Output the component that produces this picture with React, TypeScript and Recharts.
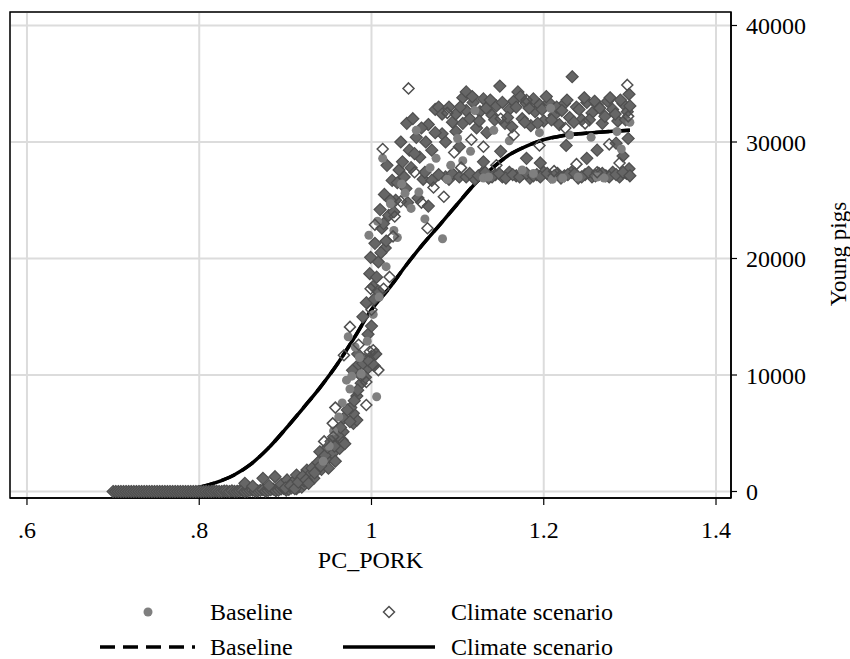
import {
  ComposedChart,
  Scatter,
  Line,
  XAxis,
  YAxis,
  CartesianGrid,
  ReferenceArea,
} from "recharts";

const FONT = "Liberation Serif, Times New Roman, Times, DejaVu Serif, serif";

// x range of the plot region and y range (frame edges, not ticks)
const X_DOMAIN: [number, number] = [0.5803, 1.4174];
const Y_DOMAIN: [number, number] = [-558, 41159];
const X_TICKS = [0.6, 0.8, 1, 1.2, 1.4];
const Y_TICKS = [0, 10000, 20000, 30000, 40000];

// fitted curve (same for baseline and climate scenario)
const curveX = [0.7, 0.72, 0.74, 0.76, 0.78, 0.8, 0.82, 0.84, 0.86, 0.88, 0.9, 0.92, 0.94, 0.96, 0.98, 1.0, 1.02, 1.04, 1.06, 1.08, 1.1, 1.12, 1.14, 1.16, 1.18, 1.2, 1.22, 1.24, 1.26, 1.28, 1.3];
const baselineCurve = [0, 0, 10, 40, 130, 360, 780, 1400, 2350, 3700, 5350, 7100, 8900, 10900, 13200, 15600, 17400, 19400, 21250, 22950, 24700, 26400, 27750, 28900, 29650, 30200, 30520, 30700, 30820, 30920, 31000];
const climateCurve = [0, 0, 10, 40, 130, 360, 780, 1400, 2350, 3700, 5350, 7100, 8900, 10900, 13200, 15600, 17400, 19400, 21250, 22950, 24700, 26400, 27750, 28900, 29650, 30200, 30520, 30700, 30820, 30920, 31000];

// points where baseline and climate scenario coincide (seen as filled diamonds)
const zeroBandX = [
  0.7, 0.703, 0.706, 0.709, 0.712, 0.715, 0.718, 0.721, 0.724, 0.727, 0.73, 0.733, 0.736, 0.739, 0.742, 0.745, 0.748, 0.751, 0.754, 0.757,
  0.76, 0.763, 0.766, 0.769, 0.772, 0.775, 0.778, 0.781, 0.784, 0.787, 0.79, 0.793, 0.796, 0.799, 0.802, 0.805, 0.808, 0.811, 0.814, 0.817,
  0.82, 0.823, 0.826, 0.829, 0.832, 0.835, 0.838, 0.841, 0.844, 0.847, 0.85, 0.853, 0.856, 0.859, 0.862, 0.865, 0.868, 0.871, 0.874, 0.877,
  0.88, 0.883, 0.886, 0.889, 0.892, 0.895, 0.898, 0.901, 0.904, 0.907, 0.91, 0.913, 0.916, 0.919, 0.922,
];
const zeroBandY = [
  0, 0, 0, 0, 0, 0, 0, 0, 0, 0, 0, 0, 0, 0, 0, 0, 0, 0, 0, 0,
  0, 0, 0, 0, 0, 0, 0, 0, 0, 0, 0, 0, 0, 0, 0, 0, 10, 0, 0, 20,
  20, 0, 0, 40, 30, 0, 60, 10, 20, 50, 80, 0, 40, 90, 120, 30, 60, 100, 150, 40,
  90, 160, 200, 70, 120, 220, 260, 110, 180, 300, 350, 250, 420, 380, 600,
];
const riseX = [
  0.853, 0.862, 0.874, 0.881, 0.888, 0.895, 0.902, 0.908, 0.913, 0.918, 0.922, 0.925, 0.929, 0.933, 0.936, 0.94, 0.942, 0.944, 0.948, 0.95,
  0.952, 0.955, 0.958, 0.96, 0.963, 0.966, 0.969, 0.967, 0.979, 0.983, 0.979, 0.976, 0.983, 0.988, 0.978, 0.985, 0.992, 0.996, 1.0, 0.984,
  0.9, 0.906, 0.911, 0.915, 0.92, 0.924, 0.927, 0.931, 0.934, 0.938, 0.941, 0.946, 0.949, 0.953, 0.957, 0.961, 0.964, 0.968, 0.972, 0.975,
  0.98, 0.984, 0.987, 0.99, 0.993, 0.997, 1.003, 1.005,
];
const riseY = [
  700, 450, 1130, 500, 1270, 600, 990, 750, 1410, 1100, 900, 1840, 1500, 1130, 2270, 3410, 1900, 2900, 2700, 2000,
  3600, 3280, 2600, 4000, 3700, 4400, 4100, 5130, 5850, 6130, 6710, 7200, 8200, 9300, 10400, 10900, 11300, 10600, 11600, 11800,
  300, 500, 250, 800, 1300, 1000, 700, 2000, 1600, 2500, 2200, 3100, 3800, 4300, 3900, 4800, 5500, 6300, 7000, 6000,
  7800, 8700, 10000, 11000, 9800, 11200, 10800, 11800,
];
const jumpX = [
  0.99, 0.994, 0.998, 1.002, 1.006, 0.999, 1.004, 1.008, 1.012, 1.016, 1.01, 1.015, 1.02, 1.024, 1.018, 1.028, 1.032, 1.036, 1.04, 1.044,
  1.041, 1.048, 1.052, 1.056, 1.06, 1.063, 1.066, 1.07, 1.074, 1.078, 1.082, 1.086, 1.09, 1.094, 1.098, 1.102, 1.106, 1.11,
  0.996, 1.0, 1.003, 1.008, 1.011, 1.014, 1.017, 1.022, 1.026, 1.03, 1.034, 1.038, 1.042, 1.046, 1.05, 1.054, 1.058, 1.062, 1.066, 1.07,
  1.074, 1.078, 1.082, 1.086, 1.09, 1.094, 1.098, 1.102, 1.106, 1.11,
];
const jumpY = [
  14990, 16200, 18700, 17600, 18400, 20100, 21300, 19700, 22600, 20900, 24200, 25500, 23700, 26700, 28000, 25000, 27600, 28300, 26000, 29300,
  31600, 32000, 30400, 28700, 26800, 30000, 31500, 29300, 32800, 33000, 30700, 27000, 26800, 31700, 32400, 29600, 33800, 34300,
  13500, 14200, 16500, 17200, 20500, 23000, 21500, 25000, 24000, 26500, 30000, 27000, 24800, 27800, 29000, 25200, 31200, 27400, 24500, 26700,
  30800, 27200, 32400, 30000, 33000, 27300, 30900, 27000, 31600, 32700,
];
const upperBandX = [
  1.114, 1.118, 1.122, 1.126, 1.13, 1.134, 1.14, 1.145, 1.149, 1.155, 1.16, 1.165, 1.17, 1.175, 1.18, 1.185, 1.19, 1.195, 1.2, 1.206,
  1.212, 1.218, 1.224, 1.23, 1.233, 1.238, 1.244, 1.25, 1.256, 1.262, 1.268, 1.274, 1.28, 1.286, 1.292, 1.297, 1.299,
  1.103, 1.117, 1.125, 1.133, 1.138, 1.143, 1.152, 1.158, 1.163, 1.168, 1.173, 1.178, 1.183, 1.188, 1.193, 1.198, 1.203, 1.209, 1.215, 1.221,
  1.227, 1.235, 1.241, 1.247, 1.253, 1.259, 1.265, 1.271, 1.277, 1.283, 1.289, 1.295, 1.3,
];
const upperBandY = [
  32000, 33400, 31200, 32600, 33700, 30800, 32300, 33100, 34800, 31600, 32800, 33500, 34300, 32000, 33300, 31400, 32600, 33200, 31800, 33400,
  32300, 31500, 33300, 32100, 35600, 33000, 31900, 33400, 32500, 33200, 31600, 33500, 32800, 31800, 33300, 32600, 34100,
  33000, 33900, 31800, 32900, 33600, 31900, 33400, 32100, 31300, 33000, 33900, 31700, 32900, 33700, 31600, 32800, 33900, 31900, 33000, 32700,
  33600, 31700, 32800, 33800, 31900, 33500, 32900, 32200, 33800, 32400, 33600, 31900, 33100,
];
const lowerBandX = [
  1.11, 1.12, 1.128, 1.136, 1.144, 1.152, 1.16, 1.168, 1.176, 1.184, 1.192, 1.2, 1.208, 1.216, 1.224, 1.232, 1.24, 1.248, 1.256, 1.264,
  1.272, 1.28, 1.288, 1.296, 1.299, 1.13, 1.15, 1.18, 1.196, 1.226, 1.25, 1.262, 1.284, 1.292, 1.298,
  1.114, 1.124, 1.132, 1.14, 1.148, 1.156, 1.164, 1.172, 1.18, 1.188, 1.196, 1.204, 1.212, 1.22, 1.228, 1.236, 1.244, 1.252, 1.26, 1.268,
  1.276, 1.284, 1.292, 1.3,
];
const lowerBandY = [
  27000, 26800, 27300, 26900, 27200, 27000, 27400, 27100, 27300, 26900, 27200, 27400, 27000, 27300, 27100, 27400, 26900, 27200, 27000, 27300,
  27100, 27400, 27000, 27300, 27700, 28300, 29200, 28600, 28200, 29700, 28600, 29300, 29900, 28800, 30300,
  27300, 27100, 27400, 27000, 27300, 26900, 27200, 27000, 27300, 27100, 27000, 27300, 27100, 26900, 27200, 27300, 27000, 27400, 27100, 27300,
  27000, 27200, 27400, 27100,
];

// baseline-only points (grey dots)
const baseX = [
  0.956, 0.962, 0.966, 0.971, 0.973, 0.975, 0.981, 0.988, 0.995, 1.006, 1.002, 1.009, 0.997, 1.007, 1.013, 1.022, 1.03, 1.035, 1.046, 1.055,
  1.062, 1.068, 1.0825, 1.075, 1.092, 1.1, 1.115, 1.13, 1.142, 1.16, 1.175, 1.195, 1.21, 1.23, 1.24, 1.255, 1.27, 1.285, 1.3, 1.12,
  1.208, 1.29, 0.944, 0.951, 0.977, 0.986, 1.017, 1.026, 1.039, 1.052, 1.088, 1.106, 1.136, 1.188, 1.222, 1.262,
];
const baseY = [
  5200, 6400, 7600, 9560, 13280, 8800, 12400, 10100, 12900, 8130, 15200, 16700, 22000, 23200, 28600, 24700, 21800, 26400, 24300, 25700,
  23400, 27800, 21700, 28600, 28000, 30300, 29200, 26900, 31000, 30100, 27600, 30800, 26800, 30600, 27000, 30400, 26900, 30900, 31700, 32700,
  32900, 29400, 2600, 3900, 9900, 11500, 19300, 22400, 25600, 31000, 26800, 28400, 27000, 27300, 26900, 27000,
];

// climate-scenario-only points (hollow diamonds)
const climX = [
  0.945, 0.955, 0.9556, 0.958, 0.968, 0.975, 0.985, 0.994, 0.994, 1.002, 1.008, 0.998, 1.0, 0.999, 1.004, 1.014, 1.021, 1.025, 1.013, 1.027,
  1.034, 1.043, 1.05, 1.058, 1.065, 1.072, 1.084, 1.088, 1.096, 1.104, 1.116, 1.13, 1.145, 1.15, 1.165, 1.18, 1.195, 1.212, 1.225, 1.238,
  1.248, 1.262, 1.276, 1.288, 1.297, 1.298,
];
const climY = [
  4300, 5850, 4700, 7200, 11700, 14130, 12600, 7420, 9400, 12130, 10420, 12000, 15600, 17400, 22900, 17400, 18420, 21900, 29400, 23600,
  24900, 34600, 27400, 24800, 22600, 26100, 25300, 32500, 29100, 27800, 30200, 29600, 28000, 32000, 30600, 33600, 29700, 27500, 31200, 28100,
  31600, 27400, 29800, 28200, 34900, 32200,
];

const toPoints = (xs: number[], ys: number[]) => xs.map((x, i) => ({ x, y: ys[i] }));

const bothPoints = [
  ...toPoints(zeroBandX, zeroBandY),
  ...toPoints(riseX, riseY),
  ...toPoints(jumpX, jumpY),
  ...toPoints(upperBandX, upperBandY),
  ...toPoints(lowerBandX, lowerBandY),
];

const Dot = (p: any) => <circle cx={p.cx} cy={p.cy} r={4.5} fill="#7f7f7f" />;
const diamond = (cx: number, cy: number, r: number) =>
  `M${cx},${cy - r}L${cx + r},${cy}L${cx},${cy + r}L${cx - r},${cy}Z`;
const FilledDiamond = (p: any) => (
  <path d={diamond(p.cx, p.cy, 6)} fill="#666666" stroke="#4f4f4f" strokeWidth={1.2} />
);
const HollowDiamond = (p: any) => (
  <path d={diamond(p.cx, p.cy, 5.5)} fill="none" stroke="#4f4f4f" strokeWidth={1.5} />
);

const fmtX = (v: number) => (v < 1 ? String(v).replace(/^0/, "") : String(v));

const YTitle = (props: any) => {
  const vb = props.viewBox || { x: 731, y: 12, width: 119, height: 486 };
  const cx = vb.x + vb.width - 12;
  const cy = vb.y + vb.height / 2 - 1;
  return (
    <text
      x={cx}
      y={cy}
      transform={`rotate(-90 ${cx} ${cy})`}
      textAnchor="middle"
      dominantBaseline="central"
      fontSize={23}
      fontFamily={FONT}
      fill="#000"
    >
      Young pigs
    </text>
  );
};

const legendText: React.CSSProperties = {
  position: "absolute",
  fontFamily: FONT,
  fontSize: 24,
  lineHeight: "24px",
  color: "#000",
  whiteSpace: "nowrap",
};

function Legend() {
  return (
    <>
      <svg width={850} height={69} style={{ position: "absolute", left: 0, top: 590 }}>
        <circle cx={148} cy={22} r={4.5} fill="#7f7f7f" />
        <path d={diamond(389, 22, 5.5)} fill="none" stroke="#4f4f4f" strokeWidth={1.5} />
        <line x1={100} y1={57} x2={195} y2={57} stroke="#000" strokeWidth={3.5} strokeDasharray="15 8" />
        <line x1={343} y1={57} x2={435} y2={57} stroke="#000" strokeWidth={3.5} />
      </svg>
      <div style={{ ...legendText, left: 210, top: 600 }}>Baseline</div>
      <div style={{ ...legendText, left: 451, top: 600 }}>Climate scenario</div>
      <div style={{ ...legendText, left: 210, top: 635 }}>Baseline</div>
      <div style={{ ...legendText, left: 451, top: 635 }}>Climate scenario</div>
    </>
  );
}

export default function App() {
  const tickStyle = { fill: "#000", fontSize: 24, fontFamily: FONT };
  return (
    <div style={{ position: "absolute", left: 0, top: 0, width: 850, height: 659, background: "#fff", overflow: "hidden" }}>
      <ComposedChart width={850} height={659} margin={{ top: 12, left: 10, right: 0, bottom: 86 }}>
        <CartesianGrid stroke="#dcdcdc" strokeWidth={2} />
        <XAxis
          type="number"
          dataKey="x"
          domain={X_DOMAIN}
          allowDataOverflow
          ticks={X_TICKS}
          interval={0}
          tickFormatter={fmtX}
          tick={tickStyle}
          tickSize={7}
          tickMargin={16}
          tickLine={{ stroke: "#000", strokeWidth: 1.2 }}
          axisLine={{ stroke: "#000", strokeWidth: 1.5 }}
          height={75}
          label={{ value: "PC_PORK", position: "insideBottom", offset: 5, fill: "#000", fontSize: 24, fontFamily: FONT }}
        />
        <YAxis
          type="number"
          orientation="right"
          domain={Y_DOMAIN}
          allowDataOverflow
          ticks={Y_TICKS}
          interval={0}
          tick={tickStyle}
          tickSize={6}
          tickMargin={9}
          tickLine={{ stroke: "#000", strokeWidth: 1.2 }}
          axisLine={{ stroke: "#000", strokeWidth: 1.5 }}
          width={119}
          label={YTitle}
        />
        <ReferenceArea
          x1={X_DOMAIN[0]}
          x2={X_DOMAIN[1]}
          y1={Y_DOMAIN[0]}
          y2={Y_DOMAIN[1]}
          fill="none"
          stroke="#000"
          strokeWidth={1.5}
        />
        <Scatter name="Both" data={bothPoints} dataKey="y" shape={FilledDiamond} isAnimationActive={false} legendType="none" />
        <Scatter name="Baseline" data={toPoints(baseX, baseY)} dataKey="y" shape={Dot} isAnimationActive={false} />
        <Scatter name="Climate scenario" data={toPoints(climX, climY)} dataKey="y" shape={HollowDiamond} isAnimationActive={false} />
        <Line
          name="Baseline"
          data={toPoints(curveX, baselineCurve)}
          dataKey="y"
          type="monotone"
          dot={false}
          stroke="#000"
          strokeWidth={3.5}
          strokeDasharray="14 8"
          isAnimationActive={false}
        />
        <Line
          name="Climate scenario"
          data={toPoints(curveX, climateCurve)}
          dataKey="y"
          type="monotone"
          dot={false}
          stroke="#000"
          strokeWidth={3.5}
          isAnimationActive={false}
        />
      </ComposedChart>
      <Legend />
    </div>
  );
}
